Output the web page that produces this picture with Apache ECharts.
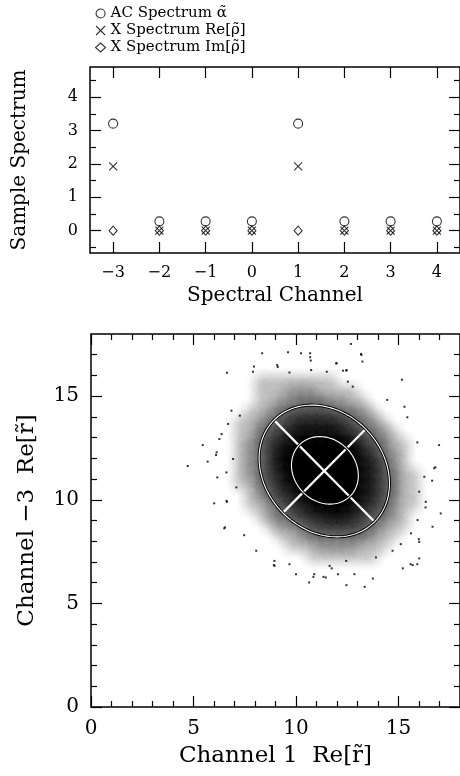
<!DOCTYPE html>
<html><head><meta charset="utf-8">
<script src="https://cdn.jsdelivr.net/npm/echarts@6/dist/echarts.min.js"></script>
<style>html,body{margin:0;padding:0;background:#fff}#c{width:460px;height:776px}</style>
</head><body><div id="c"></div>
<script>
// ---------- top panel data ----------
const channels = [-3, -2, -1, 0, 1, 2, 3, 4];
const acSpectrum = [3.21, 0.28, 0.28, 0.28, 3.21, 0.28, 0.28, 0.28];
const xSpecRe = [1.93, 0, 0, 0, 1.93, 0, 0, 0];
const xSpecIm = [0, 0, 0, 0, 0, 0, 0, 0];
const topXTicks = [-3, -2, -1, 0, 1, 2, 3, 4];
const topYTicks = [0, 1, 2, 3, 4];
const topYMinor = [-0.5, 0.5, 1.5, 2.5, 3.5, 4.5];
const legendNames = ['AC Spectrum \u03B1\u0303', 'X Spectrum Re[\u03C1\u0303]', 'X Spectrum Im[\u03C1\u0303]'];

// ---------- bottom panel data ----------
const botTicks = [0, 5, 10, 15];
const botMinor = [1, 2, 3, 4, 6, 7, 8, 9, 11, 12, 13, 14, 16, 17];
// dot-cloud density (0..9) read per 0.5x0.5 cell; cellX = left edge, cellY = lower edge
const cloudCellX = [7, 7.5, 8, 8.5, 9, 9.5, 10, 10.5, 11, 11.5, 12, 12.5, 13, 13.5, 14, 14.5, 15, 15.5];
const cloudCellY = [15.5, 15, 14.5, 14, 13.5, 13, 12.5, 12, 11.5, 11, 10.5, 10, 9.5, 9, 8.5, 8, 7.5, 7];
const cloudDensity = [
  [0,0,1,1,1,1,1,1,1,1,0,0,0,0,0,0,0,0],
  [0,0,1,1,1,2,2,2,1,1,1,1,0,0,0,0,0,0],
  [0,0,1,1,2,2,3,3,3,2,2,1,1,0,0,0,0,0],
  [0,1,1,2,3,4,4,4,4,4,3,3,2,1,0,0,0,0],
  [1,1,2,3,4,5,6,6,6,6,5,4,3,2,1,0,0,0],
  [1,1,3,4,5,6,7,7,7,7,6,5,4,3,2,1,0,0],
  [1,2,3,5,6,7,8,8,8,8,8,7,5,4,3,1,1,0],
  [1,2,3,5,7,8,8,9,9,9,8,8,6,5,3,2,1,0],
  [1,2,3,5,7,8,9,9,9,9,9,8,7,6,4,2,1,0],
  [1,2,3,5,6,8,9,9,9,9,9,8,7,6,4,3,1,1],
  [1,1,3,4,6,7,8,9,9,9,9,8,7,6,4,3,1,1],
  [0,1,2,4,5,6,7,8,9,9,9,8,7,6,4,3,1,1],
  [0,1,1,2,4,5,6,7,8,8,8,7,6,5,4,2,1,1],
  [0,0,1,2,3,4,5,6,6,7,7,6,5,4,3,2,1,0],
  [0,0,0,1,2,2,3,4,5,5,5,5,4,3,2,1,1,0],
  [0,0,0,0,1,1,2,3,3,3,3,3,3,2,1,1,0,0],
  [0,0,0,0,0,1,1,1,2,2,2,2,1,1,1,0,0,0],
  [0,0,0,0,0,0,0,1,1,1,1,1,1,1,0,0,0,0]
];
// isolated dots outside the dense cloud
const cloudOutliers = [
  [8.35,17.07],[9.61,17.12],[10.69,17.07],[10.72,16.72],[13.19,16.99],[13.24,16.67],[12.68,17.52],
  [7.95,16.43],[7.9,16.18],[6.63,16.13],[9.08,16.5],[10.74,16.26],[11.5,16.18],[11.98,16.59],
  [12.47,16.26],[15.17,15.79],[14.45,14.82],[15.29,14.49],[5.45,12.64],[4.72,11.63],[5.69,11.84],
  [6.1,12.16],[6.01,9.83],[6.5,8.62],[7.47,8.29],[6.63,9.9],[16.98,12.64],[17.06,9.34],[16.66,8.7],
  [16.01,7.97],[16.01,7.17],[15.69,6.85],[15.21,6.69],[12.46,5.88],[13.35,5.8],[10.85,6.28],
  [11.34,6.28],[8.92,6.85],[13.75,6.2],[11.74,6.69],[16.74,11.52],[16.26,11.11],[16.01,10.39],
  [16.33,9.9],[15.93,9.02],[15.61,8.38],[6.26,12.93],[6.13,12.29],[6.53,8.67],[6.61,11.32],
  [6.16,11.08],[6.85,14.3],[7.26,14.06],[6.69,13.66],[6.37,13.17],[6.93,11.97],[7.09,10.6],
  [6.61,9.95],[8.06,7.54],[8.95,7.05],[8.95,6.81],[9.68,6.89],[10.0,6.41],[10.89,6.41],[10.64,6.01],
  [11.45,6.25],[9.11,16.41],[9.68,16.14],[10.24,17.07],[10.69,16.88],[13.17,17.04],[12.45,16.23],
  [15.43,13.98],[15.92,12.77],[16.8,11.57],[16.64,10.92],[16.32,9.63],[15.99,8.1],[15.92,6.89],
  [15.59,6.89],[15.11,7.86],[14.71,7.54],[12.05,6.41],[12.85,6.41],[13.9,7.22],[12.45,7.05],
  [11.64,6.81],[11.96,16.58],[12.29,16.23],[12.53,15.7],[12.77,15.46]
];
// fitted ellipses: [centerX, centerY, semiMajor, semiMinor, angleDeg]
const ellipses = [[11.38, 11.39, 3.47, 2.86, -45], [11.41, 11.42, 1.75, 1.5, -45]];

// ---------- helpers ----------
const FONT = 'DejaVu Serif';
const minus = v => String(v).replace('-', '\u2212');
// per-layer shadow opacity for each density level (4 stacked soft layers per cell)
const shadeOf = [0, 0.08, 0.14, 0.2, 0.26, 0.33, 0.42, 0.54, 0.70, 0.98];
const LAYERS = 4;
function axes(kind, gridIndex, min, max, major, minor, labelSize, name, nameSize, nameGap) {
  const sides = kind === 'x' ? ['bottom', 'top'] : ['left', 'right'];
  const list = [];
  sides.forEach((pos, si) => {
    [[major, 11], [minor, 6]].forEach(([vals, len], mi) => {
      const main = si === 0 && mi === 0;
      list.push({
        type: 'value', gridIndex, min, max, position: pos,
        axisLine: { show: false, onZero: false }, splitLine: { show: false },
        axisTick: { show: vals.length > 0, inside: true, length: len, customValues: vals.length ? vals : [min],
          lineStyle: { color: '#000', width: 1.2 } },
        axisLabel: { show: main, customValues: major, formatter: minus, color: '#000',
          fontFamily: FONT, fontSize: labelSize, margin: 12 },
        name: main ? name : '', nameLocation: 'middle', nameGap: nameGap,
        nameTextStyle: { fontFamily: FONT, fontSize: nameSize, color: '#000' }
      });
    });
  });
  return list;
}

const densityData = [];
cloudDensity.forEach((row, ri) => row.forEach((d, ci) => {
  if (d > 0) densityData.push([cloudCellX[ci], cloudCellY[ri], d]);
}));

const chart = echarts.init(document.getElementById('c'), null, { renderer: 'canvas' });
const hollow = { color: 'rgba(0,0,0,0)', borderColor: '#000', borderWidth: 1.1 };
const xPath = 'path://M0,0L10,10M10,0L0,10';
const SHIFT = 3000; // draw cell off-screen, keep only its soft shadow

chart.setOption({
  animation: false,
  backgroundColor: '#fff',
  legend: {
    orient: 'vertical', left: 90, top: 1, itemGap: 2, itemWidth: 10, itemHeight: 9,
    selectedMode: false,
    textStyle: { fontFamily: FONT, fontSize: 15, color: '#000', lineHeight: 15 },
    data: [
      { name: legendNames[0], icon: 'circle', itemStyle: hollow },
      { name: legendNames[1], icon: xPath, itemStyle: hollow },
      { name: legendNames[2], icon: 'diamond', itemStyle: hollow }
    ]
  },
  grid: [
    { left: 90, top: 67, width: 373, height: 186, show: true, borderColor: '#000', borderWidth: 1.5, backgroundColor: 'transparent' },
    { left: 91, top: 334, width: 372, height: 373, show: true, borderColor: '#000', borderWidth: 1.5, backgroundColor: 'transparent' }
  ],
  xAxis: [].concat(
    axes('x', 0, -3.5, 4.5, topXTicks, [], 16, 'Spectral Channel', 20, 33),
    axes('x', 1, 0, 18, botTicks, botMinor, 20, 'Channel 1  Re[r\u0303]', 23, 38)
  ),
  yAxis: [].concat(
    axes('y', 0, -0.67, 4.91, topYTicks, topYMinor, 16, 'Sample Spectrum', 20, 60),
    axes('y', 1, 0, 18, botTicks, botMinor, 20, 'Channel \u22123  Re[r\u0303]', 23, 52)
  ),
  series: [
    { name: legendNames[0], type: 'scatter', xAxisIndex: 0, yAxisIndex: 0, symbol: 'circle', symbolSize: 9,
      itemStyle: hollow, data: channels.map((c, i) => [c, acSpectrum[i]]), z: 5 },
    { name: legendNames[1], type: 'scatter', xAxisIndex: 0, yAxisIndex: 0, symbol: xPath, symbolSize: 8,
      itemStyle: hollow, data: channels.map((c, i) => [c, xSpecRe[i]]), z: 5 },
    { name: legendNames[2], type: 'scatter', xAxisIndex: 0, yAxisIndex: 0, symbol: 'diamond', symbolSize: [8, 9],
      itemStyle: hollow, data: channels.map((c, i) => [c, xSpecIm[i]]), z: 5 },
    { type: 'custom', xAxisIndex: 4, yAxisIndex: 4, data: densityData, encode: { x: 0, y: 1 }, z: 2, silent: true,
      renderItem: (p, api) => {
        const x0 = api.value(0), y0 = api.value(1), d = api.value(2);
        const a = api.coord([x0, y0 + 0.5]), b = api.coord([x0 + 0.5, y0]);
        const children = [];
        for (let k = 0; k < LAYERS; k++) {
          children.push({ type: 'rect', shape: { x: a[0] - SHIFT, y: a[1], width: b[0] - a[0], height: b[1] - a[1] },
            style: { fill: '#000', shadowColor: 'rgba(0,0,0,' + shadeOf[d] + ')', shadowBlur: 12, shadowOffsetX: SHIFT, shadowOffsetY: 0 } });
        }
        return { type: 'group', children };
      } },
    { type: 'scatter', xAxisIndex: 4, yAxisIndex: 4, symbol: 'rect', symbolSize: 2, silent: true,
      itemStyle: { color: '#000' }, data: cloudOutliers, z: 3 },
    { type: 'custom', xAxisIndex: 4, yAxisIndex: 4, data: [ellipses[0]], encode: { x: 0, y: 1 }, z: 4, silent: true,
      renderItem: (p, api) => {
        const cx = api.value(0), cy = api.value(1), A = api.value(2), B = api.value(3), t = api.value(4) * Math.PI / 180;
        const c = Math.cos(t), s = Math.sin(t);
        const seg = (u, v) => { const p1 = api.coord([cx + u, cy + v]), p2 = api.coord([cx - u, cy - v]);
          return { type: 'line', shape: { x1: p1[0], y1: p1[1], x2: p2[0], y2: p2[1] }, style: { stroke: '#fff', lineWidth: 2.2 } }; };
        return { type: 'group', children: [seg(A * c, A * s), seg(-B * s, B * c)] };
      } },
    { type: 'custom', xAxisIndex: 4, yAxisIndex: 4, data: ellipses, encode: { x: 0, y: 1 }, z: 6, silent: true,
      renderItem: (p, api) => {
        const cx = api.value(0), cy = api.value(1), A = api.value(2), B = api.value(3), t = api.value(4) * Math.PI / 180;
        const c = Math.cos(t), s = Math.sin(t), pts = [];
        for (let k = 0; k <= 120; k++) {
          const th = k / 120 * 2 * Math.PI, u = A * Math.cos(th), v = B * Math.sin(th);
          pts.push(api.coord([cx + u * c - v * s, cy + u * s + v * c]));
        }
        return { type: 'group', children: [
          { type: 'polyline', shape: { points: pts }, style: { stroke: '#000', lineWidth: 3, fill: null } },
          { type: 'polyline', shape: { points: pts }, style: { stroke: '#fff', lineWidth: 1.1, fill: null } }
        ] };
      } }
  ]
});
</script></body></html>
